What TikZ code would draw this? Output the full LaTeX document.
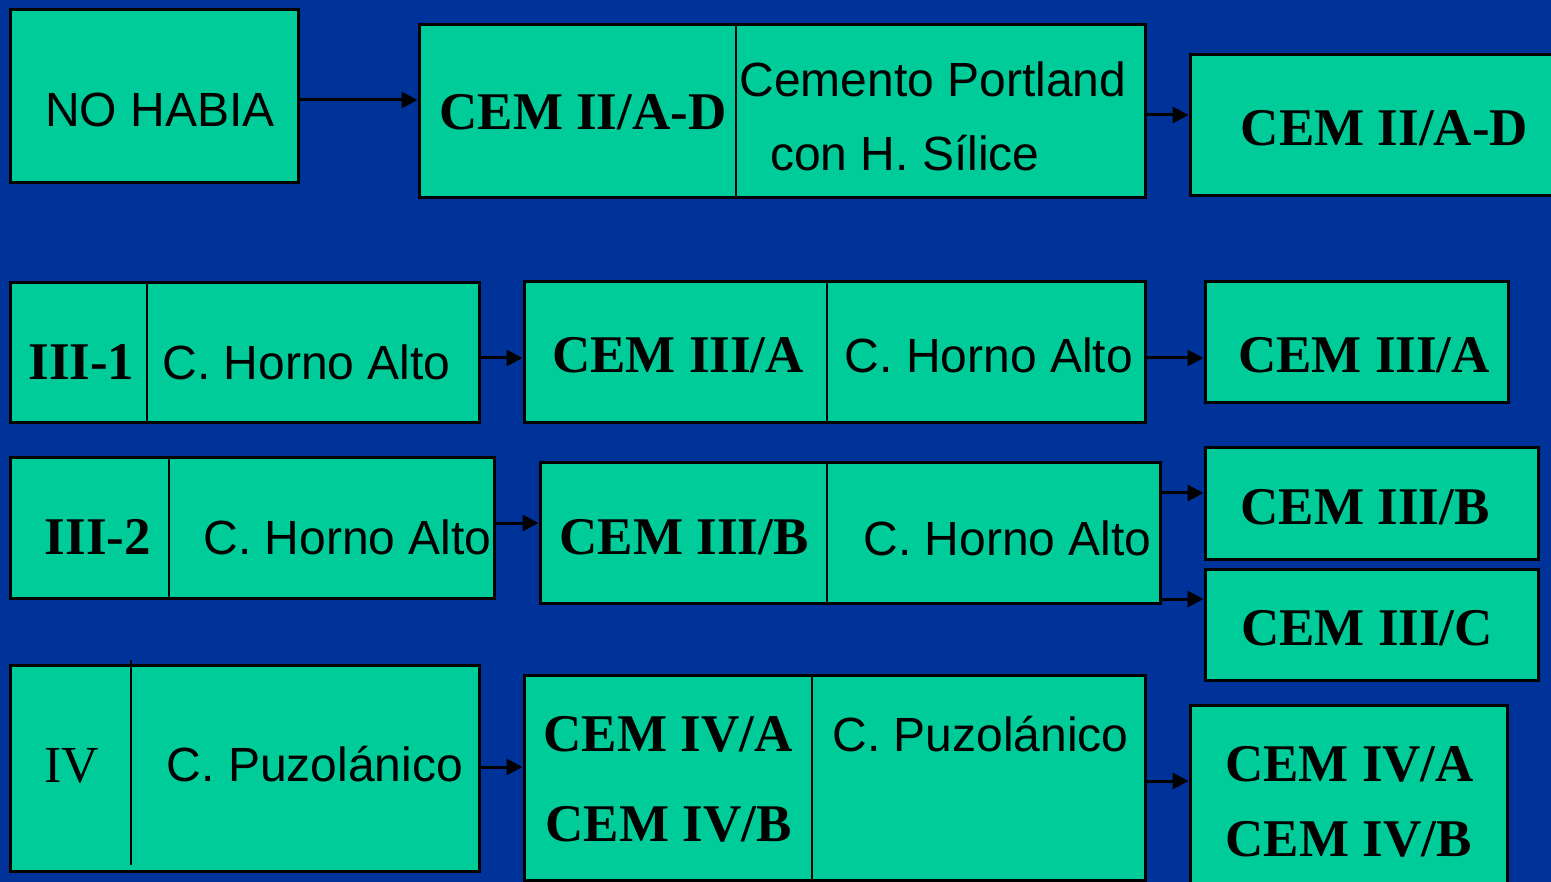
\documentclass[tikz,border=0pt]{standalone}
\usepackage{fontspec}
\setmainfont{Liberation Serif}
\newfontfamily\arialf{Liberation Sans}
\usetikzlibrary{arrows.meta}
\definecolor{bgblue}{RGB}{0,51,153}
\definecolor{boxgreen}{RGB}{0,204,153}
\begin{document}
\begin{tikzpicture}[x=1pt,y=-1pt,
  cbox/.style={draw=black, fill=boxgreen, line width=3pt, inner sep=0pt},
  sans/.style={font=\arialf\fontsize{48}{56}\selectfont, anchor=base, inner sep=0pt},
  bser/.style={font=\bfseries\fontsize{53}{60}\selectfont, anchor=base, inner sep=0pt},
  rser/.style={font=\fontsize{52}{60}\selectfont, anchor=base, inner sep=0pt},
  divider/.style={line width=2pt},
  arr/.style={line width=3pt, -{Triangle[length=16pt,width=16pt]}}]
\clip (0,0) rectangle (1551,882);
\fill[bgblue] (0,0) rectangle (1551,882);

% boxes
\node[cbox, minimum width=288pt, minimum height=173pt] (nohabia) at (154,96.5) {};
\node[cbox, minimum width=726pt, minimum height=173pt] (cem2ad) at (782,111.5) {};
\node[cbox, minimum width=380pt, minimum height=141pt] (r2ad) at (1380,125.5) {};
\node[cbox, minimum width=469pt, minimum height=140pt] (iii1) at (244.5,353) {};
\node[cbox, minimum width=621pt, minimum height=141pt] (cem3a) at (834.5,352.5) {};
\node[cbox, minimum width=303pt, minimum height=121pt] (r3a) at (1356.5,342.5) {};
\node[cbox, minimum width=484pt, minimum height=140pt] (iii2) at (252,528) {};
\node[cbox, minimum width=620pt, minimum height=140pt] (cem3b) at (850,533) {};
\node[cbox, minimum width=333pt, minimum height=111pt] (r3b) at (1371.5,503.5) {};
\node[cbox, minimum width=333pt, minimum height=111pt] (r3c) at (1371.5,624.5) {};
\node[cbox, minimum width=469pt, minimum height=206pt] (iv) at (244.5,768) {};
\node[cbox, minimum width=621pt, minimum height=205pt] (cem4) at (834.5,777.5) {};
\node[cbox, minimum width=317pt, minimum height=190pt] (r4) at (1348.5,800) {};

% dividers
\draw[divider] (cem2ad.north -| 736,0) -- (cem2ad.south -| 736,0);
\draw[divider] (iii1.north -| 146.5,0) -- (iii1.south -| 146.5,0);
\draw[divider] (cem3a.north -| 827,0) -- (cem3a.south -| 827,0);
\draw[divider] (iii2.north -| 169,0) -- (iii2.south -| 169,0);
\draw[divider] (cem3b.north -| 827,0) -- (cem3b.south -| 827,0);
\draw[divider] (131,660) -- (131,865);
\draw[divider] (cem4.north -| 812,0) -- (cem4.south -| 812,0);

% texts
\node[sans] (t1) at (160,127) {NO HABIA};
\node[bser] (t2) at (583,130) {CEM II/A-D};
\node[sans] (t3) at (933,97) {Cemento Portland};
\node[sans] (t4) at (905,171) {con H. Sílice};
\node[bser] (t5) at (1384.5,146) {CEM II/A-D};
\node[bser] (t6) at (81.5,380) {III-1};
\node[sans] (t7) at (306.5,380) {C. Horno Alto};
\node[bser] (t8) at (678,373) {CEM III/A};
\node[sans] (t9) at (989,373) {C. Horno Alto};
\node[bser] (t10) at (1364,373) {CEM III/A};
\node[bser] (t11) at (98,554) {III-2};
\node[sans] (t12) at (347.5,554) {C. Horno Alto};
\node[bser] (t13) at (684,554) {CEM III/B};
\node[sans] (t14) at (1007.5,555) {C. Horno Alto};
\node[bser] (t15) at (1365,525) {CEM III/B};
\node[bser] (t16) at (1367,645) {CEM III/C};
\node[rser] (t17) at (72,782) {IV};
\node[sans] (t18) at (315,781) {C. Puzolánico};
\node[bser] (t19) at (668,751) {CEM IV/A};
\node[bser] (t20) at (668.5,841) {CEM IV/B};
\node[sans] (t21) at (980.5,751) {C. Puzolánico};
\node[bser] (t22) at (1349.5,781) {CEM IV/A};
\node[bser] (t23) at (1348.5,856) {CEM IV/B};

% arrows
\draw[arr] (nohabia.east |- 0,100) -- (cem2ad.west |- 0,100);
\draw[arr] (cem2ad.east |- 0,115) -- (r2ad.west |- 0,115);
\draw[arr] (iii1.east |- 0,358) -- (cem3a.west |- 0,358);
\draw[arr] (cem3a.east |- 0,358) -- (r3a.west |- 0,358);
\draw[arr] (iii2.east |- 0,523) -- (cem3b.west |- 0,523);
\draw[arr] (cem3b.east |- 0,493) -- (r3b.west |- 0,493);
\draw[arr] (cem3b.east |- 0,599) -- (r3c.west |- 0,599);
\draw[arr] (iv.east |- 0,767) -- (cem4.west |- 0,767);
\draw[arr] (cem4.east |- 0,781) -- (r4.west |- 0,781);
\end{tikzpicture}
\end{document}
